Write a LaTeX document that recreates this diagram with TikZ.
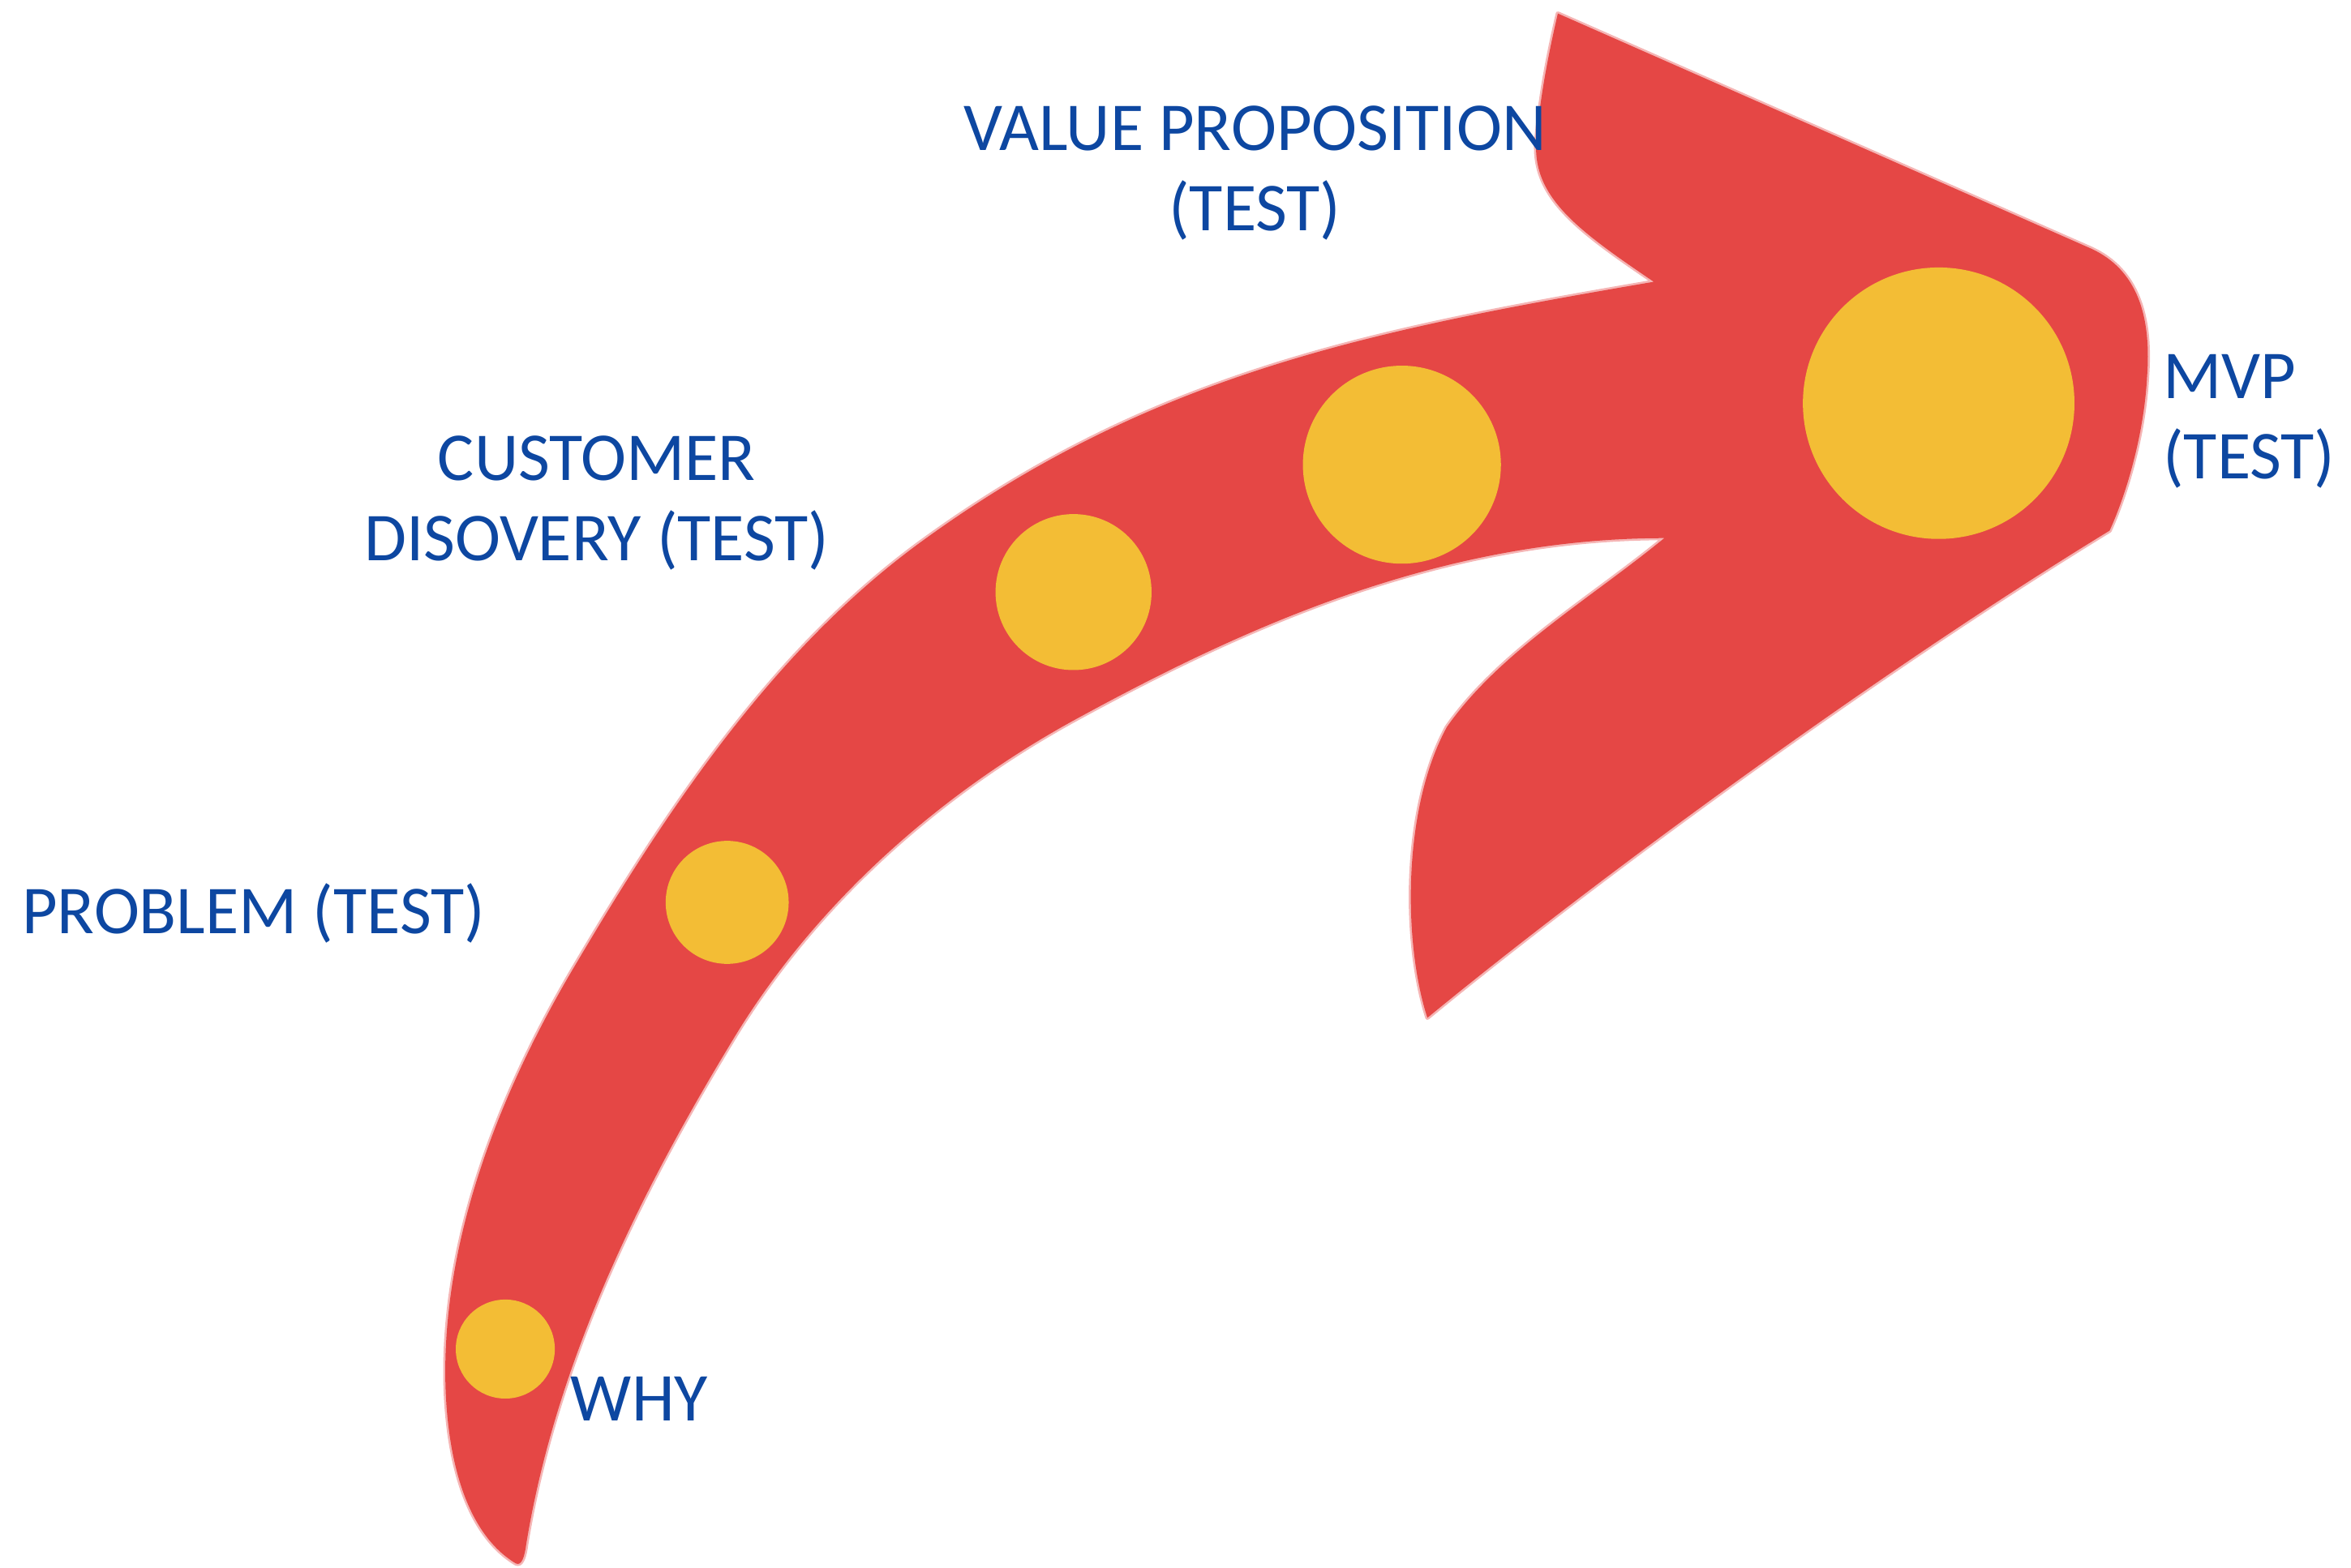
\documentclass[tikz,border=0pt]{standalone}
\usepackage{fontspec}
\setmainfont{Carlito}
\definecolor{arrowred}{RGB}{229,71,69}
\definecolor{dotyellow}{RGB}{243,189,53}
\definecolor{labelblue}{RGB}{13,71,161}
\begin{document}
\begin{tikzpicture}[x=0.01cm,y=-0.01cm,
  dot/.style={circle,fill=dotyellow,inner sep=0pt,draw=none},
  lbl/.style={text=labelblue,inner sep=0pt,font=\fontsize{13}{15.2}\selectfont},
  arrowbody/.style={fill=arrowred,draw=arrowred,draw opacity=0.4,line width=0.8pt,line join=round}]
\useasboundingbox (0,0) rectangle (1568,1046);
% arrow body
\path[arrowbody]
  (351,1030) .. controls (350,1038) and (348,1045) .. (344,1043)
  .. controls (306,1020) and (297,960) .. (297,915)
  .. controls (297,821) and (335,726) .. (383,645)
  .. controls (445,540) and (516,433) .. (615,361)
  .. controls (769,249) and (916,220) .. (1103,188)
  .. controls (1050,152) and (1020,130) .. (1025,90)
  .. controls (1028,60) and (1033,35) .. (1039,9)
  -- (1395,166)
  .. controls (1425,180) and (1435,210) .. (1432,251)
  .. controls (1430,290) and (1418,330) .. (1407,354)
  .. controls (1250,450) and (1060,590) .. (952,679)
  .. controls (936,630) and (935,540) .. (965,485)
  .. controls (1000,435) and (1060,400) .. (1110,359)
  .. controls (960,359) and (829,419) .. (719,479)
  .. controls (627,529) and (545,602) .. (491,690)
  .. controls (427,795) and (371,908) .. (351,1030)
  -- cycle;
% dots
\node[dot,minimum size=0.66cm] (why) at (337,900) {};
\node[dot,minimum size=0.82cm] (problem) at (485,602) {};
\node[dot,minimum size=1.04cm] (customer) at (716,395) {};
\node[dot,minimum size=1.32cm] (value) at (935,310) {};
\node[dot,minimum size=1.81cm] (mvp) at (1293,269) {};
% labels
\node[lbl,anchor=north,align=center] (tvalue) at (837,70) {VALUE PROPOSITION\\(TEST)};
\node[lbl,anchor=north,align=center] (tcustomer) at (398,290) {CUSTOMER\\DISOVERY (TEST)};
\node[lbl,anchor=base west] (tproblem) at (14,623) {PROBLEM (TEST)};
\node[lbl,anchor=base west] (twhy) at (380,948) {WHY};
\node[lbl,anchor=north west,align=left] (tmvp) at (1442,236) {MVP\\(TEST)};
\end{tikzpicture}
\end{document}
